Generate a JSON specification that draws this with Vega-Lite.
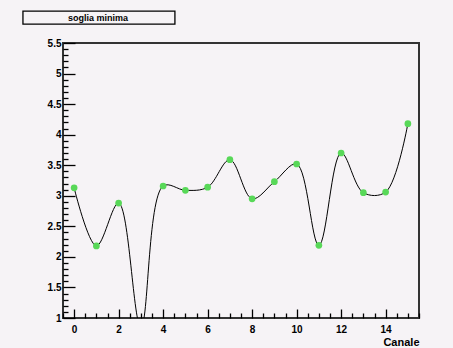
{
  "$schema": "https://vega.github.io/schema/vega-lite/v6.json",
  "width": 356,
  "height": 275,
  "autosize": "none",
  "padding": {"left": 63, "top": 43, "right": 34, "bottom": 30},
  "background": "#f6f3f6",
  "config": {
    "view": {"stroke": "#333333", "strokeWidth": 2, "fill": "#f6f3f6"},
    "font": "Liberation Sans"
  },
  "data": {
    "values": [
      {"canale": 0, "soglia": 3.13},
      {"canale": 1, "soglia": 2.18},
      {"canale": 2, "soglia": 2.88},
      {"canale": 3, "soglia": 0.85},
      {"canale": 4, "soglia": 3.16},
      {"canale": 5, "soglia": 3.09},
      {"canale": 6, "soglia": 3.14},
      {"canale": 7, "soglia": 3.59},
      {"canale": 8, "soglia": 2.95},
      {"canale": 9, "soglia": 3.23},
      {"canale": 10, "soglia": 3.52},
      {"canale": 11, "soglia": 2.19},
      {"canale": 12, "soglia": 3.70},
      {"canale": 13, "soglia": 3.05},
      {"canale": 14, "soglia": 3.06},
      {"canale": 15, "soglia": 4.18}
    ]
  },
  "layer": [
    {
      "mark": {"type": "line", "interpolate": "catmull-rom", "color": "#000000", "strokeWidth": 1, "clip": true},
      "encoding": {
        "x": {"field": "canale", "type": "quantitative", "scale": {"domain": [-0.5, 15.5], "nice": false, "zero": false}, "axis": {
          "orient": "bottom", "offset": -9, "values": [0, 2, 4, 6, 8, 10, 12, 14], "format": "~g", "tickSize": 9, "tickColor": "#000000", "tickWidth": 1.3,
          "labelPadding": 6, "labelFontSize": 10, "labelFontWeight": "bold", "labelColor": "#000000", "labelFont": "Liberation Sans",
          "domain": false, "grid": false,
          "title": "Canale", "titleAnchor": "end", "titleFontSize": 11, "titleFontWeight": "bold", "titleColor": "#000000", "titleFont": "Liberation Sans", "titlePadding": 2
        }},
        "y": {"field": "soglia", "type": "quantitative", "scale": {"domain": [1, 5.5], "nice": false, "zero": false}, "axis": {
          "orient": "left", "offset": -12, "values": [1, 1.5, 2, 2.5, 3, 3.5, 4, 4.5, 5, 5.5], "format": "~g", "tickSize": 12, "tickColor": "#000000", "tickWidth": 1.3,
          "labelPadding": 2, "labelFontSize": 10, "labelFontWeight": "bold", "labelColor": "#000000", "labelFont": "Liberation Sans",
          "domain": false, "grid": false, "title": null
        }}
      }
    },
    {
      "mark": {"type": "point", "filled": true, "shape": "circle", "size": 45, "color": "#58d858", "opacity": 1, "clip": true},
      "encoding": {
        "x": {"field": "canale", "type": "quantitative", "axis": {
          "orient": "bottom", "offset": -5, "values": [-0.5, 0.5, 1, 1.5, 2.5, 3, 3.5, 4.5, 5, 5.5, 6.5, 7, 7.5, 8.5, 9, 9.5, 10.5, 11, 11.5, 12.5, 13, 13.5, 14.5, 15, 15.5],
          "tickSize": 5, "tickColor": "#000000", "tickWidth": 1.3, "labels": false, "domain": false, "grid": false, "title": null
        }},
        "y": {"field": "soglia", "type": "quantitative", "axis": {
          "orient": "left", "offset": -5, "values": [1.1, 1.2, 1.3, 1.4, 1.6, 1.7, 1.8, 1.9, 2.1, 2.2, 2.3, 2.4, 2.6, 2.7, 2.8, 2.9, 3.1, 3.2, 3.3, 3.4, 3.6, 3.7, 3.8, 3.9, 4.1, 4.2, 4.3, 4.4, 4.6, 4.7, 4.8, 4.9, 5.1, 5.2, 5.3, 5.4],
          "tickSize": 5, "tickColor": "#000000", "tickWidth": 1.3, "labels": false, "domain": false, "grid": false, "title": null
        }}
      }
    },
    {
      "data": {"values": [{"label": "soglia minima"}]},
      "mark": {"type": "rect", "fill": "#f6f3f6", "stroke": "#000000", "strokeWidth": 1.3, "clip": false},
      "encoding": {
        "x": {"datum": -2.3, "type": "quantitative", "axis": null},
        "x2": {"datum": 4.53},
        "y": {"datum": 6.02, "type": "quantitative", "axis": null},
        "y2": {"datum": 5.81}
      }
    },
    {
      "data": {"values": [{"label": "soglia minima"}]},
      "mark": {"type": "text", "font": "Liberation Sans", "fontWeight": "bold", "fontSize": 9, "color": "#000000", "align": "center", "baseline": "middle", "clip": false},
      "encoding": {
        "text": {"field": "label"},
        "x": {"datum": 1.07, "type": "quantitative", "axis": null},
        "y": {"datum": 5.91, "type": "quantitative", "axis": null}
      }
    }
  ],
  "resolve": {"axis": {"x": "independent", "y": "independent"}}
}
